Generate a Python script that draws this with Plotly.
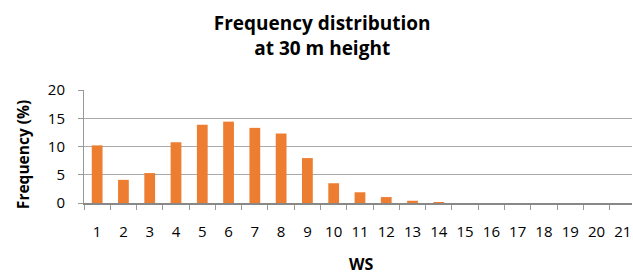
import plotly.graph_objects as go

ws = [str(i) for i in range(1, 22)]
freq = [10.2, 4.1, 5.3, 10.75, 13.85, 14.4, 13.3, 12.3, 7.95, 3.5, 1.9, 1.05, 0.4, 0.15,
        0, 0, 0, 0, 0, 0, 0]
y_ticks = [0, 5, 10, 15, 20]

fig = go.Figure(go.Bar(x=ws, y=freq, marker=dict(color="#ED7D31", line=dict(width=0))))

font = "Open Sans, Liberation Sans, sans-serif"
fig.update_layout(
    width=633, height=274,
    margin=dict(l=84, r=1, t=89.5, b=70.5, autoexpand=False),
    paper_bgcolor="white", plot_bgcolor="white",
    bargap=0.59,
    showlegend=False,
    title=dict(text="<b>Frequency distribution<br>at 30 m height</b>",
               x=0.509, xanchor="center", y=0.89, yanchor="middle",
               font=dict(family=font, size=19, color="black")),
    font=dict(family=font, size=15, color="black"),
    annotations=[
        dict(text="<b>Frequency (%)</b>", xref="paper", yref="paper", x=-0.11, y=0.43,
             textangle=-90, showarrow=False, font=dict(size=15.5),
             xanchor="center", yanchor="middle"),
        dict(text="<b>WS</b>", xref="paper", yref="paper", x=0.5055, y=-0.544,
             showarrow=False, font=dict(size=16), xanchor="center", yanchor="middle"),
    ],
)
fig.update_xaxes(type="category", range=[-0.5, 20.35], tickson="boundaries", ticks="outside",
                 ticklen=5, tickcolor="#999999", showline=True, linecolor="#888888",
                 linewidth=1.5, showgrid=False, tickfont=dict(size=15), tickangle=0,
                 automargin=False, ticklabelstandoff=14, ticklabeloverflow="allow")
fig.update_yaxes(range=[0, 20], tickvals=y_ticks, showgrid=True, gridcolor="#AAAAAA",
                 gridwidth=1, showline=True, linecolor="#999999", zeroline=False,
                 ticks="outside", ticklen=5, tickcolor="#999999", tickfont=dict(size=15),
                 automargin=False, ticklabelstandoff=10)

fig.write_html("out.html", config={"displayModeBar": False},
               post_script="document.body.style.margin='0';"
                           "document.body.style.overflow='hidden';")
